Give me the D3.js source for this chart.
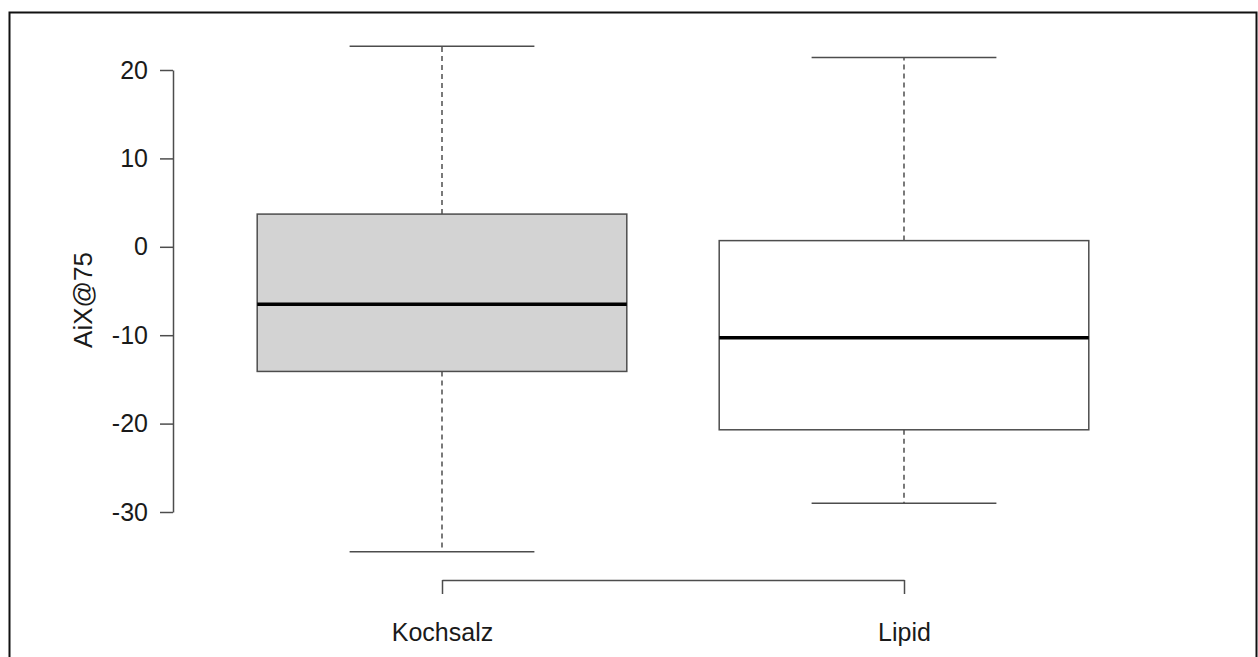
<!DOCTYPE html>
<html>
<head>
<meta charset="utf-8">
<script src="https://cdn.jsdelivr.net/npm/d3@7"></script>
<style>
  html, body { margin: 0; padding: 0; background: #fff; }
  svg { display: block; }
  text { font-family: "Liberation Sans", Arial, sans-serif; fill: #1a1a1a; }
</style>
</head>
<body>
<div id="chart"></div>
<script>
const categories = ['Kochsalz', 'Lipid'];
const whiskerLow = [-34.5, -29.0];
const q1 = [-14.1, -20.7];
const median = [-6.5, -10.3];
const q3 = [3.7, 0.7];
const whiskerHigh = [22.7, 21.4];
const fills = ['#d3d3d3', '#ffffff'];
const yTicks = [-30, -20, -10, 0, 10, 20];

const width = 1258;
const height = 657;
const lineCol = '#4d4d4d';
const fontSize = 25;

const svg = d3.select('#chart')
  .append('svg')
  .attr('width', width)
  .attr('height', height);

// outer frame
svg.append('rect')
  .attr('x', 9.5).attr('y', 12.5)
  .attr('width', 1247).attr('height', 700)
  .attr('fill', 'none')
  .attr('stroke', '#111')
  .attr('stroke-width', 2);

const x = d3.scaleLinear()
  .domain([1, 2])
  .range([442, 904]);

const y = d3.scaleLinear()
  .domain([-30, 20])
  .range([512, 70]);

const boxes = categories.map((c, i) => ({
  name: c, lo: whiskerLow[i], q1: q1[i], med: median[i], q3: q3[i], hi: whiskerHigh[i], fill: fills[i], pos: i + 1
}));

const boxHalf = 0.4, capHalf = 0.2;

const g = svg.append('g');

// whiskers (dashed)
g.selectAll('.whisk-up')
  .data(boxes)
  .join('line')
    .attr('x1', d => x(d.pos)).attr('x2', d => x(d.pos))
    .attr('y1', d => y(d.q3)).attr('y2', d => y(d.hi))
    .attr('stroke', '#222').attr('stroke-width', 1.2)
    .attr('stroke-dasharray', '5,4');

g.selectAll('.whisk-down')
  .data(boxes)
  .join('line')
    .attr('x1', d => x(d.pos)).attr('x2', d => x(d.pos))
    .attr('y1', d => y(d.q1)).attr('y2', d => y(d.lo))
    .attr('stroke', '#222').attr('stroke-width', 1.2)
    .attr('stroke-dasharray', '5,4');

// caps
['hi', 'lo'].forEach(k => {
  g.selectAll('.cap-' + k)
    .data(boxes)
    .join('line')
      .attr('x1', d => x(d.pos - capHalf)).attr('x2', d => x(d.pos + capHalf))
      .attr('y1', d => y(d[k])).attr('y2', d => y(d[k]))
      .attr('stroke', lineCol).attr('stroke-width', 1.5);
});

// boxes
g.selectAll('.box')
  .data(boxes)
  .join('rect')
    .attr('x', d => x(d.pos - boxHalf))
    .attr('width', d => x(d.pos + boxHalf) - x(d.pos - boxHalf))
    .attr('y', d => y(d.q3))
    .attr('height', d => y(d.q1) - y(d.q3))
    .attr('fill', d => d.fill)
    .attr('stroke', lineCol).attr('stroke-width', 1.5);

// medians
g.selectAll('.med')
  .data(boxes)
  .join('line')
    .attr('x1', d => x(d.pos - boxHalf)).attr('x2', d => x(d.pos + boxHalf))
    .attr('y1', d => y(d.med)).attr('y2', d => y(d.med))
    .attr('stroke', '#000').attr('stroke-width', 3.5);

// y axis
const yAxis = svg.append('g')
  .attr('transform', 'translate(173,0)')
  .call(d3.axisLeft(y).tickValues(yTicks).tickFormat(d => String(d))
    .tickSize(13).tickSizeOuter(0).tickPadding(12));
yAxis.selectAll('path, line').attr('stroke', lineCol).attr('stroke-width', 1.5);
yAxis.selectAll('text').attr('font-size', fontSize).attr('fill', '#1a1a1a')
  .style('font-family', '"Liberation Sans", Arial, sans-serif');

// x axis
const xAxis = svg.append('g')
  .attr('transform', 'translate(0,580)')
  .call(d3.axisBottom(x).tickValues([1, 2]).tickFormat((d, i) => categories[i])
    .tickSize(14).tickSizeOuter(0).tickPadding(29));
xAxis.selectAll('path, line').attr('stroke', lineCol).attr('stroke-width', 1.5);
xAxis.selectAll('text').attr('font-size', fontSize).attr('fill', '#1a1a1a')
  .style('font-family', '"Liberation Sans", Arial, sans-serif');

// y label
svg.append('text')
  .attr('transform', 'translate(92,300) rotate(-90)')
  .attr('text-anchor', 'middle')
  .attr('font-size', fontSize + 1)
  .text('AiX@75');
</script>
</body>
</html>
